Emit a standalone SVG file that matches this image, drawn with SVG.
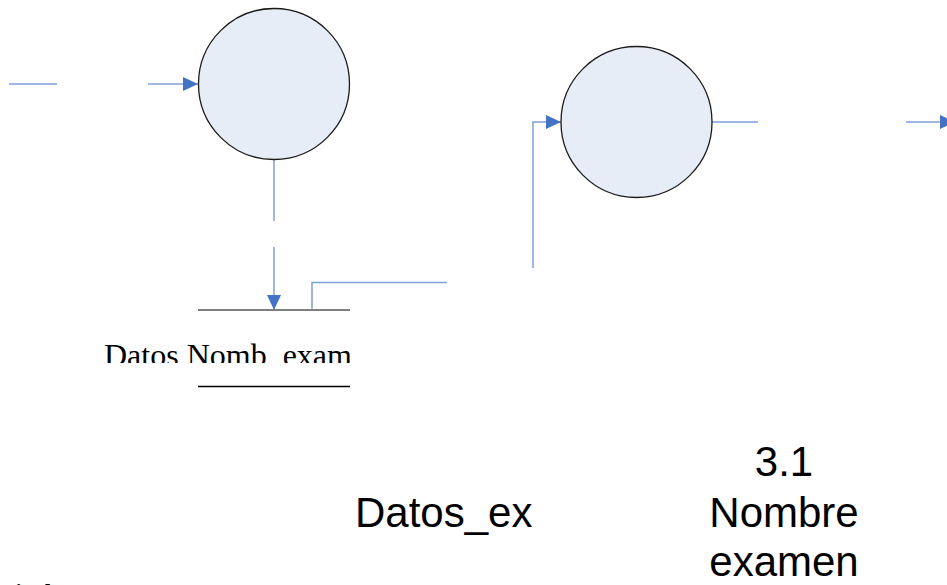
<svg xmlns="http://www.w3.org/2000/svg" width="947" height="585" viewBox="0 0 947 585">
  <style>
    .proc { fill: #E6EDF7; stroke: #1a1a1a; stroke-width: 1.3; }
    .flow { fill: none; stroke: #7FA0D8; stroke-width: 1.5; }
    .big { font-family: "Liberation Sans", Arial, sans-serif; font-size: 42px; fill: #000; }
    .serif { font-family: "Liberation Serif", "Times New Roman", serif; fill: #000; }
  </style>
  <defs>
    <marker id="arrow" markerWidth="16" markerHeight="14" viewBox="0 0 16 14" refX="15" refY="7" orient="auto" markerUnits="userSpaceOnUse">
      <path d="M0,0 L15,7 L0,14 Z" fill="#4472C4"/>
    </marker>
    <clipPath id="storeClip">
      <rect x="90" y="330" width="280" height="33"/>
    </clipPath>
  </defs>

  <!-- connectors -->
  <g id="connectors">
    <line class="flow" x1="9" y1="84" x2="57" y2="84"/>
    <line class="flow" x1="148" y1="84" x2="198" y2="84" marker-end="url(#arrow)"/>
    <line class="flow" x1="274" y1="160" x2="274" y2="221"/>
    <line class="flow" x1="274" y1="247" x2="274" y2="310" marker-end="url(#arrow)"/>
    <polyline class="flow" points="312,310 312,282.5 447,282.5"/>
    <polyline class="flow" points="533,268 533,122 561,122" marker-end="url(#arrow)"/>
    <line class="flow" x1="712" y1="122" x2="758" y2="122"/>
    <line class="flow" x1="906" y1="122" x2="955" y2="122" marker-end="url(#arrow)"/>
  </g>

  <!-- process 1 -->
  <g id="proc1">
    <circle class="proc" cx="274" cy="84" r="75.5"/>
  </g>

  <!-- process 2 -->
  <g id="proc2">
    <circle class="proc" cx="636.5" cy="122" r="75.5"/>
  </g>

  <!-- data store -->
  <g id="store">
    <line x1="198" y1="310" x2="350" y2="310" stroke="#808080" stroke-width="2"/>
    <line x1="198" y1="386.5" x2="350" y2="386.5" stroke="#000" stroke-width="1.5"/>
    <text class="serif" x="104" y="366" font-size="32" clip-path="url(#storeClip)" style="white-space: pre">Datos Nomb  exam</text>
  </g>

  <!-- labels -->
  <g id="labels">
    <text class="big" x="355" y="527">Datos_ex</text>
    <text class="big" text-anchor="middle" x="784" y="476">3.1</text>
    <text class="big" text-anchor="middle" x="784" y="527">Nombre</text>
    <text class="big" text-anchor="middle" x="784" y="576">examen</text>
    <text class="serif" x="-2" y="600" font-size="24" font-weight="bold">Nivel 2</text>
    <text class="serif" x="210" y="600" font-size="24" font-weight="bold">4</text>
  </g>
</svg>
